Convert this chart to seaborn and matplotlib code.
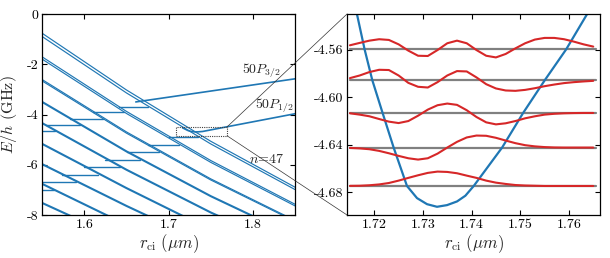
import matplotlib
matplotlib.use("Agg")
import matplotlib.pyplot as plt
import seaborn as sns
from matplotlib.patches import Rectangle, ConnectionPatch
from matplotlib.ticker import FixedLocator, FormatStrFormatter

# ---------------- data ----------------
# Left panel: manifold (diagonal) lines, energies (GHz) at these r_ci (um)
diag_x = [1.55, 1.65, 1.75, 1.85]
diag_L1a = [-0.770, -3.025, -5.066, -6.893]
diag_L1b = [-0.900, -3.143, -5.172, -6.987]
diag_L2a = [-1.709, -3.878, -5.832, -7.572]
diag_L2b = [-1.800, -3.960, -5.905, -7.637]
diag_L3a = [-2.613, -4.695, -6.562, -8.216]
diag_L3b = [-2.668, -4.744, -6.606, -8.254]
diag_L4 = [-3.503, -5.470, -7.250, -8.839]
diag_L5 = [-4.346, -6.200, -7.900, -9.419]
diag_L6 = [-5.172, -6.930, -8.588, -9.975]
diag_L7 = [-5.979, -7.640, -9.211, -10.506]
diag_L8 = [-6.763, -8.392, -9.807, -11.008]
diag_L9 = [-7.523, -9.055, -10.374, -11.478]
thin_lines = [diag_L1a, diag_L1b, diag_L2a, diag_L2b, diag_L3a, diag_L3b]
thick_lines = [diag_L4, diag_L5, diag_L6, diag_L7, diag_L8, diag_L9]

# 50P3/2 level: free part and plateau segments between manifolds
p32_free_x = [1.661, 1.85]
p32_free_y = [-3.50, -2.58]
p32_step_start = [1.641, 1.6105, 1.583, 1.554, 1.55]
p32_step_end = [1.676, 1.647, 1.622, 1.595, 1.565]
p32_step_level = [-3.69, -3.90, -4.18, -4.42, -4.65]

# 50P1/2 level: free part (with the potential well) and plateaus
p12_free_x = [1.7165, 1.7227, 1.7268, 1.7310, 1.7330, 1.7350, 1.7404, 1.769, 1.85]
p12_free_y = [-4.530, -4.635, -4.675, -4.691, -4.692, -4.690, -4.675, -4.49, -3.97]
p12_step_start = [1.700, 1.676, 1.650, 1.625, 1.600, 1.573, 1.55, 1.55]
p12_step_end = [1.735, 1.712, 1.689, 1.666, 1.642, 1.616, 1.590, 1.564]
p12_step_level = [-4.89, -5.20, -5.50, -5.80, -6.10, -6.40, -6.70, -7.00]

# Right panel: potential well (blue)
well_x = [1.7150, 1.71643, 1.71801, 1.71959, 1.72171, 1.72398, 1.72672, 1.72878,
          1.73084, 1.73289, 1.73495, 1.73701, 1.73872, 1.74044, 1.74627, 1.75059,
          1.75505, 1.75944, 1.76376, 1.7665]
well_y = [-4.5050, -4.5299, -4.5597, -4.5856, -4.6132, -4.6423, -4.6746, -4.6848,
          -4.6899, -4.6921, -4.6907, -4.6876, -4.6828, -4.6746, -4.6423, -4.6132,
          -4.5856, -4.5597, -4.5299, -4.5120]

# vibrational levels (grey) and wavefunctions (red)
level_E = [-4.5597, -4.5856, -4.6132, -4.6423, -4.6746]
wf_x = [1.715, 1.717, 1.719, 1.721, 1.723, 1.725, 1.727, 1.729, 1.731, 1.733,
        1.735, 1.737, 1.739, 1.741, 1.743, 1.745, 1.747, 1.749, 1.751, 1.753,
        1.755, 1.757, 1.759, 1.761, 1.763, 1.765]
wf_v0 = [-4.6745, -4.6744, -4.6740, -4.6733, -4.6721, -4.6701, -4.6678, -4.6656,
         -4.6636, -4.6625, -4.6628, -4.6639, -4.6659, -4.6678, -4.6701, -4.6718,
         -4.6729, -4.6738, -4.6742, -4.6744, -4.6746, -4.6746, -4.6746, -4.6746,
         -4.6746, -4.6746]
wf_v1 = [-4.6426, -4.6430, -4.6437, -4.6451, -4.6471, -4.6493, -4.6513, -4.6524,
         -4.6513, -4.6474, -4.6423, -4.6375, -4.6338, -4.6322, -4.6324, -4.6341,
         -4.6364, -4.6386, -4.6403, -4.6413, -4.6419, -4.6422, -4.6423, -4.6423,
         -4.6423, -4.6423]
wf_v2 = [-4.6135, -4.6146, -4.6160, -4.6183, -4.6205, -4.6217, -4.6200, -4.6155,
         -4.6104, -4.6067, -4.6053, -4.6064, -4.6109, -4.6166, -4.6211, -4.6228,
         -4.6219, -4.6200, -4.6177, -4.6160, -4.6146, -4.6139, -4.6135, -4.6133,
         -4.6132, -4.6132]
wf_v3 = [-4.5839, -4.5817, -4.5788, -4.5769, -4.5771, -4.5817, -4.5879, -4.5912,
         -4.5918, -4.5873, -4.5817, -4.5780, -4.5783, -4.5833, -4.5890, -4.5926,
         -4.5943, -4.5946, -4.5938, -4.5924, -4.5907, -4.5893, -4.5881, -4.5873,
         -4.5867, -4.5862]
wf_v4 = [-4.5563, -4.5543, -4.5524, -4.5512, -4.5518, -4.5555, -4.5608, -4.5651,
         -4.5653, -4.5603, -4.5546, -4.5524, -4.5546, -4.5603, -4.5651, -4.5665,
         -4.5636, -4.5589, -4.5546, -4.5515, -4.5501, -4.5501, -4.5512, -4.5532,
         -4.5555, -4.5574]
wavefunctions = [wf_v0, wf_v1, wf_v2, wf_v3, wf_v4]

zoom_box = [1.7085, 1.7695, -4.85, -4.49]   # x0, x1, y0, y1

# ---------------- styling ----------------
sns.set_style("ticks")
plt.rcParams.update({
    "font.family": ["cmr10", "DejaVu Serif"],
    "mathtext.fontset": "cm",
    "axes.unicode_minus": False,
    "axes.formatter.use_mathtext": True,
    "font.size": 10,
    "xtick.direction": "in", "ytick.direction": "in",
    "xtick.top": True, "ytick.right": True,
    "axes.edgecolor": "black", "axes.linewidth": 0.9,
    "xtick.color": "black", "ytick.color": "black",
})
BLUE = "#1f77b4"
RED = "#d62728"
GREY = "#808080"

fig = plt.figure(figsize=(6.10, 2.58), dpi=100)
ax1 = fig.add_axes([0.0693, 0.1667, 0.4143, 0.779])
ax2 = fig.add_axes([0.5689, 0.1667, 0.4148, 0.779])

# ---- left panel ----
for ys in thin_lines:
    sns.lineplot(x=diag_x, y=ys, ax=ax1, color=BLUE, lw=0.85, sort=False, estimator=None)
for ys in thick_lines:
    sns.lineplot(x=diag_x, y=ys, ax=ax1, color=BLUE, lw=1.5, sort=False, estimator=None)
sns.lineplot(x=p32_free_x, y=p32_free_y, ax=ax1, color=BLUE, lw=1.2, sort=False, estimator=None)
sns.lineplot(x=p12_free_x, y=p12_free_y, ax=ax1, color=BLUE, lw=1.2, sort=False, estimator=None)
for x0, x1, lv in zip(p32_step_start, p32_step_end, p32_step_level):
    sns.lineplot(x=[x0, x1], y=[lv, lv], ax=ax1, color=BLUE, lw=1.0, sort=False, estimator=None)
for x0, x1, lv in zip(p12_step_start, p12_step_end, p12_step_level):
    sns.lineplot(x=[x0, x1], y=[lv, lv], ax=ax1, color=BLUE, lw=1.0, sort=False, estimator=None)

ax1.add_patch(Rectangle((zoom_box[0], zoom_box[2]), zoom_box[1] - zoom_box[0],
                        zoom_box[3] - zoom_box[2], fill=False, ls=(0, (1, 1)),
                        lw=0.8, ec="0.25", zorder=5))

ax1.text(1.81, -2.27, r"$50P_{3/2}$", ha="center", va="center", fontsize=10)
ax1.text(1.826, -3.67, r"$50P_{1/2}$", ha="center", va="center", fontsize=10)
ax1.text(1.816, -5.80, r"$n$=47", ha="center", va="center", fontsize=10)

ax1.set_xlim(1.55, 1.85)
ax1.set_ylim(-8, 0)
ax1.xaxis.set_major_locator(FixedLocator([1.6, 1.7, 1.8]))
ax1.yaxis.set_major_locator(FixedLocator([0, -2, -4, -6, -8]))
ax1.xaxis.set_major_formatter(FormatStrFormatter("%.1f"))
ax1.yaxis.set_major_formatter(FormatStrFormatter("%d"))
ax1.set_xlabel(r"$r_{\rm ci}\ (\mu m)$", fontsize=12, labelpad=1)
ax1.set_ylabel(r"$E/h$ (GHz)", fontsize=11.5)
ax1.yaxis.set_label_coords(-0.092, 0.5)

# ---- right panel ----
for lv in level_E:
    sns.lineplot(x=[wf_x[0], wf_x[-1] + 0.0005], y=[lv, lv], ax=ax2, color=GREY, lw=1.6,
                 sort=False, estimator=None)
sns.lineplot(x=well_x, y=well_y, ax=ax2, color=BLUE, lw=1.6, sort=False, estimator=None)
for wf in wavefunctions:
    sns.lineplot(x=wf_x, y=wf, ax=ax2, color=RED, lw=1.5, sort=False, estimator=None)

ax2.set_xlim(1.7144, 1.7664)
ax2.set_ylim(-4.699, -4.530)
ax2.xaxis.set_major_locator(FixedLocator([1.72, 1.73, 1.74, 1.75, 1.76]))
ax2.yaxis.set_major_locator(FixedLocator([-4.56, -4.60, -4.64, -4.68]))
ax2.xaxis.set_major_formatter(FormatStrFormatter("%.2f"))
ax2.yaxis.set_major_formatter(FormatStrFormatter("%.2f"))
ax2.set_xlabel(r"$r_{\rm ci}\ (\mu m)$", fontsize=12, labelpad=1)
ax2.set_ylabel("")

for ax in (ax1, ax2):
    ax.tick_params(which="both", direction="in", length=3.5, width=0.8,
                   top=True, right=True, labelsize=10, pad=3)
    for s in ax.spines.values():
        s.set_visible(True)
        s.set_color("black")
        s.set_linewidth(0.9)

# connecting lines from the zoom box to the right panel
for yb, ya in ((zoom_box[3], 1), (zoom_box[2], 0)):
    con = ConnectionPatch(xyA=(zoom_box[1], yb), coordsA=ax1.transData,
                          xyB=(0, ya), coordsB=ax2.transAxes,
                          color="0.2", lw=0.5)
    fig.add_artist(con)

fig.savefig("out.png", dpi=100)
